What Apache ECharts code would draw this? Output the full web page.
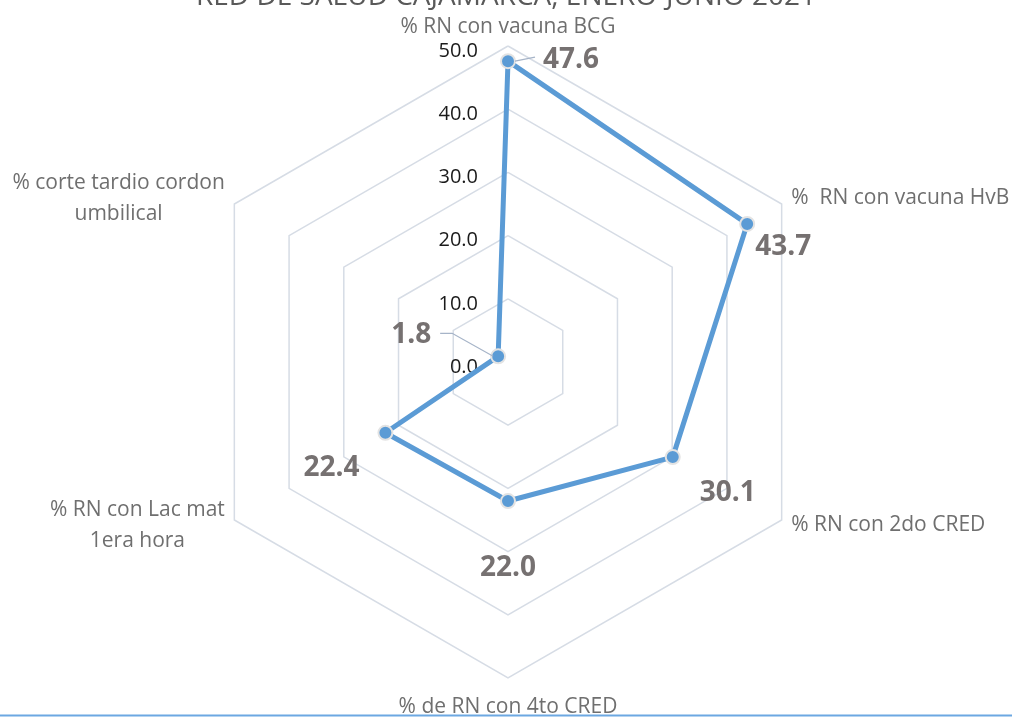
<!DOCTYPE html>
<html>
<head>
<meta charset="utf-8">
<script src="https://cdn.jsdelivr.net/npm/echarts@6/dist/echarts.min.js"></script>
<style>
  html, body { margin: 0; padding: 0; background: #ffffff; }
  #chart { width: 1012px; height: 717px; }
</style>
</head>
<body>
<div id="chart"></div>
<script>
// ---- data (clockwise order, as in the reference, starting at the top) ----
const categories = [
  '% RN con vacuna BCG',
  '%  RN con vacuna HvB',
  '% RN con 2do CRED',
  '% de RN con 4to CRED',
  '% RN con Lac mat\n1era hora',
  '% corte tardio cordon\numbilical'
];
const values = [47.6, 43.7, 30.1, 22.0, 22.4, 1.8];
const axisMax = 50;
const axisInterval = 10;
const titleText = 'RED DE SALUD CAJAMARCA, ENERO-JUNIO 2021';

// ECharts lays out radar indicators counter-clockwise; reorder to get clockwise.
const order = [0, 5, 4, 3, 2, 1];
const indNames = order.map(i => categories[i]);
const indValues = order.map(i => values[i]);

const FONT = '"Open Sans", "Liberation Sans", sans-serif';
const BLUE = '#5B9BD5';
const LABEL_GRAY = '#767171';
const NAME_GRAY = '#6f6f6f';
const NAME_SIZE = 21;

const chart = echarts.init(document.getElementById('chart'), null, { renderer: 'canvas' });

function nameFormatter(name) {
  const lines = name.split('\n');
  let style = 'c';
  if (name === categories[0]) style = 't';
  else if (name === categories[3]) style = 'b';
  return lines.map(l => '{' + style + '|' + l + '}').join('\n');
}

const option = {
  backgroundColor: '#ffffff',
  animation: false,
  title: {
    text: titleText,
    left: 'center',
    top: -22,
    textStyle: { fontFamily: FONT, fontSize: 28, fontWeight: 'normal', color: '#595959' }
  },
  radar: {
    center: [508, 362],
    radius: 316,
    startAngle: 90,
    shape: 'polygon',
    splitNumber: axisMax / axisInterval,
    nameGap: 11,
    axisName: {
      formatter: nameFormatter,
      color: NAME_GRAY,
      fontFamily: FONT,
      fontSize: NAME_SIZE,
      rich: {
        c: { align: 'center', fontFamily: FONT, fontSize: NAME_SIZE, color: NAME_GRAY, lineHeight: 31 },
        t: { fontFamily: FONT, fontSize: NAME_SIZE, color: NAME_GRAY, lineHeight: 16 },
        b: { fontFamily: FONT, fontSize: NAME_SIZE, color: NAME_GRAY, padding: [8, 0, 0, 0] }
      }
    },
    indicator: indNames.map((n, i) => {
      const ind = { name: n, min: 0, max: axisMax };
      if (i === 0) ind.axisLabel = { show: true };
      return ind;
    }),
    axisLine: { show: false },
    axisTick: { show: false },
    axisLabel: {
      show: false,
      formatter: v => Number(v).toFixed(1),
      color: '#1a1a1a',
      fontFamily: FONT,
      fontSize: 20,
      margin: 30,
      verticalAlign: 'top',
      lineHeight: 10
    },
    splitLine: { lineStyle: { color: '#D6DCE5', width: 1.5 } },
    splitArea: { show: false }
  },
  series: [{
    type: 'radar',
    symbol: 'circle',
    symbolSize: 14,
    lineStyle: { color: BLUE, width: 5 },
    itemStyle: { color: BLUE, borderColor: '#e3e3e3', borderWidth: 2 },
    label: { show: false },
    data: [{ value: indValues, name: 'valores' }]
  }]
};
chart.setOption(option);

// Data labels positioned from the library's own radar coordinate system.
const radarCS = chart.getModel().getComponent('radar').coordinateSystem;
// offsets (text centre relative to vertex) by original category index
const labelOffsets = [[63, -1], [36, 23], [55, 36], [0, 67], [-54, 35], [-87, -21]];
const leaders = {
  0: [[7, 0], [27, -4]],
  5: [[-5, 0], [-46, -23], [-58, -23]]
};
const graphics = [];
order.forEach((origIdx, indIdx) => {
  const p = radarCS.dataToPoint(values[origIdx], indIdx);
  const off = labelOffsets[origIdx];
  graphics.push({
    type: 'text',
    x: p[0] + off[0],
    y: p[1] + off[1],
    z: 10,
    style: {
      text: values[origIdx].toFixed(1),
      fill: LABEL_GRAY,
      font: 'bold 28px ' + FONT,
      align: 'center',
      verticalAlign: 'middle'
    }
  });
  if (leaders[origIdx]) {
    graphics.push({
      type: 'polyline',
      z: 9,
      shape: { points: leaders[origIdx].map(d => [p[0] + d[0], p[1] + d[1]]) },
      style: { stroke: '#A6B4C8', lineWidth: 1.2, fill: null }
    });
  }
});
// bottom border line
graphics.push({
  type: 'line',
  shape: { x1: 0, y1: 715.5, x2: 1012, y2: 715.5 },
  style: { stroke: '#6CA8E2', lineWidth: 2 }
});
chart.setOption({ graphic: graphics });
</script>
</body>
</html>
